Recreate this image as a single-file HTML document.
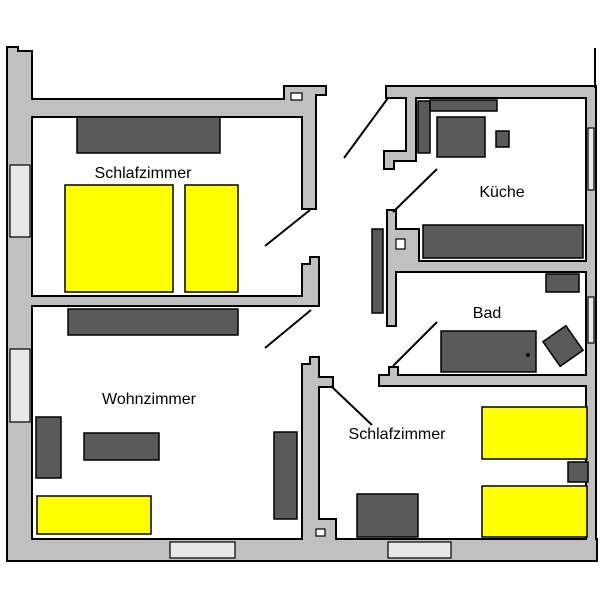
<!DOCTYPE html>
<html><head><meta charset="utf-8"><style>
html,body{margin:0;padding:0;background:#fff;width:605px;height:592px;overflow:hidden}
text{font-family:"Liberation Sans",sans-serif;font-size:16px;fill:#000}
</style></head><body>
<svg width="605" height="592" viewBox="0 0 605 592" xmlns="http://www.w3.org/2000/svg">
<defs>
<g id="walls">
<polygon points="8,48 17,48 17,52 31,52 31,560 8,560"/>
<rect x="8" y="540" width="588" height="20"/>
<rect x="587" y="87" width="8" height="473"/>
<rect x="31" y="100" width="284" height="16"/>
<polygon points="285,87 325,87 325,94 315,94 315,208 303,208 303,100 285,100"/>
<polygon points="303,265 311,265 311,258 318,258 318,305 303,305"/>
<rect x="31" y="297" width="287" height="8"/>
<rect x="387" y="87" width="208" height="10"/>
<polygon points="407,97 415,97 415,160 393,160 393,168 385,168 385,152 407,152"/>
<polygon points="388,211 395,211 395,230 418,230 418,262 595,262 595,271 395,271 395,325 388,325"/>
<polygon points="390,368 397,368 397,376 595,376 595,385 380,385 380,376 390,376"/>
<polygon points="303,365 311,365 311,358 318,358 318,378 332,378 332,386 318,386 318,520 335,520 335,540 303,540"/>
</g>
</defs>
<use href="#walls" fill="#000" stroke="#000" stroke-width="4"/>
<use href="#walls" fill="#c0c0c0" stroke="none"/>
<!-- windows -->
<g fill="#e8e8e8" stroke="#000" stroke-width="1.2">
<rect x="10" y="165" width="20" height="72"/>
<rect x="10" y="349" width="20" height="73"/>
<rect x="170" y="542" width="65" height="16"/>
<rect x="388" y="542" width="63" height="16"/>
<rect x="588" y="128" width="6" height="62"/>
<rect x="588" y="297" width="6" height="46"/>
</g>
<g fill="#fff" stroke="#000" stroke-width="1.2">
<rect x="291" y="93" width="11" height="7"/>
<rect x="396" y="239" width="9" height="10"/>
<rect x="316" y="529" width="9" height="7"/>
</g>
<line x1="595" y1="48" x2="595" y2="88" stroke="#000" stroke-width="2"/>
<!-- doors -->
<g stroke="#000" stroke-width="2">
<line x1="265" y1="246" x2="310" y2="210"/>
<line x1="265" y1="348" x2="311" y2="310"/>
<line x1="388" y1="98" x2="344" y2="158"/>
<line x1="437" y1="169" x2="393" y2="212"/>
<line x1="437" y1="322" x2="393" y2="366"/>
<line x1="331" y1="386" x2="372" y2="425"/>
</g>
<!-- furniture -->
<g fill="#5a5a5a" stroke="#000" stroke-width="1.5">
<rect x="77" y="117" width="143" height="36"/>
<rect x="68" y="309" width="170" height="26"/>
<rect x="36" y="417" width="25" height="61"/>
<rect x="84" y="433" width="75" height="27"/>
<rect x="274" y="432" width="23" height="87"/>
<rect x="357" y="494" width="61" height="43"/>
<rect x="568" y="462" width="20" height="20"/>
<rect x="418" y="101" width="12" height="52"/>
<rect x="430" y="100" width="67" height="11"/>
<rect x="437" y="117" width="48" height="40"/>
<rect x="496" y="131" width="13" height="16"/>
<rect x="423" y="225" width="160" height="33"/>
<rect x="372" y="229" width="11" height="84"/>
<rect x="546" y="274" width="33" height="18"/>
<rect x="441" y="331" width="95" height="41"/>
<rect x="549" y="331" width="28" height="30" transform="rotate(-35 563 346)"/>
</g>
<circle cx="528" cy="355" r="2" fill="#000"/>
<g fill="#ffff00" stroke="#000" stroke-width="1.5">
<rect x="65" y="185" width="108" height="107"/>
<rect x="185" y="185" width="53" height="107"/>
<rect x="37" y="496" width="114" height="38"/>
<rect x="482" y="407" width="105" height="52"/>
<rect x="482" y="486" width="105" height="51"/>
</g>
<text x="143" y="178" text-anchor="middle">Schlafzimmer</text>
<text x="149" y="404" text-anchor="middle">Wohnzimmer</text>
<text x="397" y="439" text-anchor="middle">Schlafzimmer</text>
<text x="502" y="197" text-anchor="middle">Küche</text>
<text x="487" y="318" text-anchor="middle">Bad</text>
</svg>
</body></html>
